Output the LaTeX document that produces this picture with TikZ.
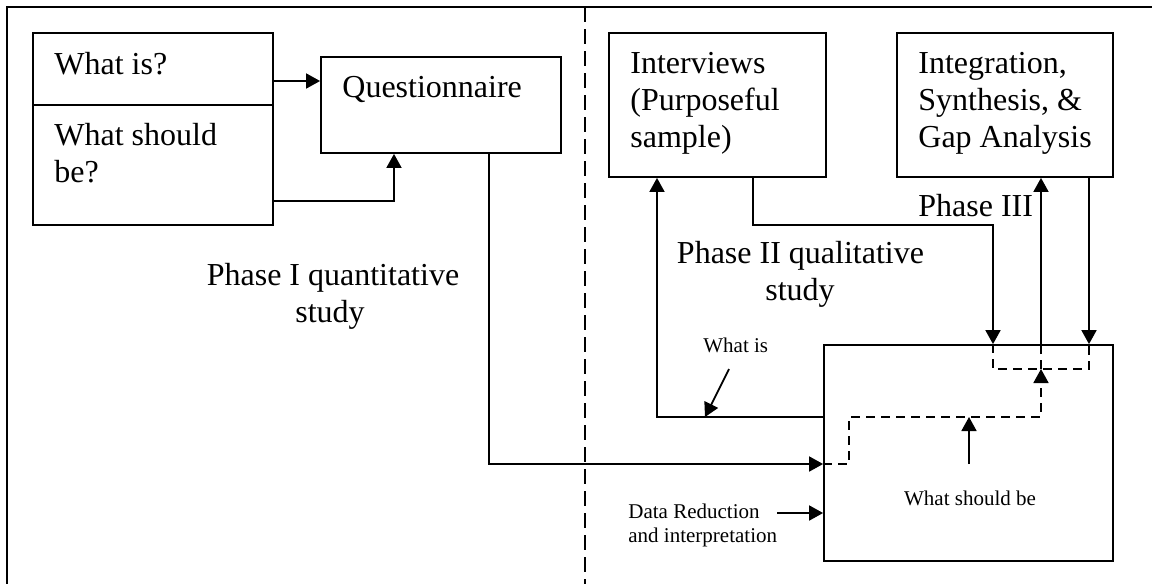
\documentclass[tikz,border=0pt]{standalone}
\usepackage{fontspec}
\setmainfont{Liberation Serif}
\usetikzlibrary{arrows.meta}
\begin{document}
\begin{tikzpicture}[x=0.5pt,y=-0.5pt,
  bx/.style 2 args={draw,line width=0.9pt,inner sep=0pt,minimum width=#1*0.5pt,minimum height=#2*0.5pt},
  bigt/.style={font=\fontsize{16}{18.5}\selectfont,inner sep=0pt},
  smallt/.style={font=\fontsize{10.5}{12.5}\selectfont,inner sep=0pt},
  ln/.style={line width=0.9pt},
  arr/.style={-{Triangle[length=7pt,width=7.5pt]}},
  dsh/.style={line width=0.9pt,dash pattern=on 4.5pt off 3pt},
  divider/.style={line width=0.9pt,dash pattern=on 7.5pt off 3.5pt},
  frame/.style={line width=1.3pt}]
\useasboundingbox (0,0) rectangle (1152,584);
% frame and divider
\draw[frame] (1152,7) -- (7,7) -- (7,584);
\draw[divider] (585,7) -- (585,584);
% boxes
\node[bx={240}{72}] (whatis) at (153,69) {};
\node[bx={240}{120}] (should) at (153,165) {};
\node[bx={240}{96}] (ques) at (441,105) {};
\node[bx={217}{144}] (intv) at (717.5,105) {};
\node[bx={216}{144}] (integ) at (1005,105) {};
\node[bx={289}{216}] (big) at (968.5,453) {};
% texts
\node[bigt,anchor=base west] (twi) at (54,74) {What is?};
\node[bigt,anchor=base west] (tws1) at (54,145) {What should};
\node[bigt,anchor=base west] (tws2) at (54,182) {be?};
\node[bigt,anchor=base west] (tq) at (342,97) {Questionnaire};
\node[bigt,anchor=base west] (ti1) at (630,73) {Interviews};
\node[bigt,anchor=base west] (ti2) at (630,110) {(Purposeful};
\node[bigt,anchor=base west] (ti3) at (630,147) {sample)};
\node[bigt,anchor=base west] (tg1) at (918,73) {Integration,};
\node[bigt,anchor=base west] (tg2) at (918,110) {Synthesis, \&};
\node[bigt,anchor=base west] (tg3) at (918,147) {Gap Analysis};
\node[bigt,anchor=base] (p1a) at (333,285) {Phase I quantitative};
\node[bigt,anchor=base] (p1b) at (330,322) {study};
\node[bigt,anchor=base] (p2a) at (800.5,263) {Phase II qualitative};
\node[bigt,anchor=base] (p2b) at (800,300) {study};
\node[bigt,anchor=base west] (p3) at (918,216) {Phase III};
\node[smallt,anchor=base west] (lwi) at (703,352) {What is};
\node[smallt,anchor=base west] (ldr1) at (628,518) {Data Reduction};
\node[smallt,anchor=base west] (ldr2) at (628,542) {and interpretation};
\node[smallt,anchor=base] (lws) at (970,505) {What should be};
% helper coordinates
\coordinate (h81) at (0,81);
\coordinate (h201) at (0,201);
\coordinate (v394) at (394,0);
\coordinate (v489) at (489,0);
\coordinate (h464) at (0,464);
\coordinate (v753) at (753,0);
\coordinate (k1) at (993,225);
\coordinate (h417) at (0,417);
\coordinate (v657) at (657,0);
\coordinate (v1041) at (1041,0);
\coordinate (v1089) at (1089,0);
\coordinate (v993) at (993,0);
\coordinate (h369) at (0,369);
\coordinate (v849) at (849,0);
\coordinate (v969) at (969,0);
\coordinate (dr) at (777,513);
\coordinate (wi) at (729,369);
\coordinate (wi2) at (705,417);
% connectors
\draw[ln,arr] (whatis.east |- h81) -- (ques.west |- h81);
\draw[ln,arr] (should.east |- h201) -| (ques.south -| v394);
\draw[ln,arr] (ques.south -| v489) |- (big.west |- h464);
\draw[ln,arr] (intv.south -| v753) |- (k1) -- (big.north -| k1);
\draw[ln,arr] (big.west |- h417) -| (intv.south -| v657);
\draw[ln,arr] (big.north -| v1041) -- (integ.south -| v1041);
\draw[ln,arr] (integ.south -| v1089) -- (big.north -| v1089);
\draw[ln,arr] (dr) -- (big.west |- dr);
\draw[ln,arr] (wi) -- (wi2);
% dashed inner paths
\draw[dsh] (big.north -| v993) -- (v993 |- h369) -- (v1089 |- h369) -- (big.north -| v1089);
\draw[dsh] (v1041 |- h369) -- (big.north -| v1041);
\draw[dsh,arr] (big.west |- h464) -| (v849 |- h417) -| (v1041 |- h369);
\draw[ln,arr] (v969 |- h464) -- (v969 |- h417);
\end{tikzpicture}
\end{document}
